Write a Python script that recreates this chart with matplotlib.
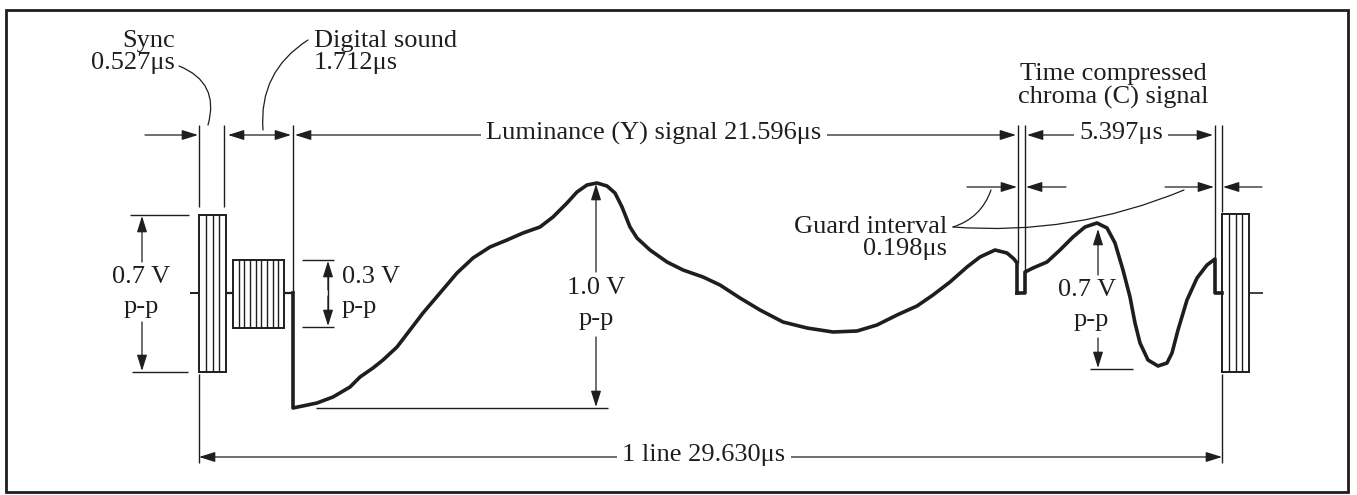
import matplotlib
matplotlib.use("Agg")
import matplotlib.pyplot as plt
from matplotlib.patches import Rectangle, FancyArrowPatch

# ---- data (pixel-space diagram, y grows downward) ----
sync_label = "Sync\n0.527\u03bcs"
sound_label = "Digital sound\n1.712\u03bcs"
lum_label = "Luminance (Y) signal 21.596\u03bcs"
chroma_dur_label = "5.397\u03bcs"
chroma_label = "Time compressed\nchroma (C) signal"
guard_label = "Guard interval\n0.198\u03bcs"
line_label = "1 line 29.630\u03bcs"
amp_labels = ["0.7 V", "0.3 V", "1.0 V", "0.7 V"]
pp_label = "p-p"

# luminance waveform trace points
lum_x = [293, 293, 317, 333, 350, 360, 373, 383, 397, 410, 423, 440, 457, 473, 490, 507,
         523, 540, 553, 567, 577, 587, 597, 607, 615, 622, 630, 637, 650, 667, 683, 703,
         720, 740, 760, 783, 807, 833, 857, 877, 897, 917, 933, 950, 967, 980, 995, 1007,
         1014, 1017, 1017]
lum_y = [293, 408, 403, 397, 387, 377, 368, 360, 347, 330, 313, 293, 273, 258, 247, 240,
         233, 227, 217, 203, 192, 185, 183, 186, 193, 207, 227, 238, 250, 262, 270, 277,
         285, 298, 310, 322, 328, 332, 331, 325, 315, 306, 295, 282, 267, 257, 250, 253,
         259, 263, 293]
# chroma waveform trace points
chr_x = [1017, 1025, 1025, 1033, 1047, 1060, 1073, 1085, 1097, 1107, 1115, 1123, 1130,
         1135, 1140, 1148, 1158, 1167, 1172, 1178, 1187, 1197, 1207, 1215, 1215, 1222]
chr_y = [293, 293, 272, 268, 262, 250, 237, 227, 223, 228, 243, 270, 297, 323, 343, 360,
         366, 363, 353, 330, 300, 278, 265, 259, 293, 293]

INK = "#1e1e1e"
FONT = "Liberation Serif"
FS = 19

fig = plt.figure(figsize=(13.57, 4.95), dpi=100)
ax = fig.add_axes([0, 0, 1, 1])
ax.set_xlim(0, 1357)
ax.set_ylim(495, 0)
ax.axis("off")

def line(xs, ys, lw=1.0, **kw):
    ax.plot(xs, ys, color=INK, lw=lw, solid_capstyle="butt", **kw)

def arrow(x1, y1, x2, y2, both=False):
    style = "<|-|>" if both else "-|>"
    ax.add_patch(FancyArrowPatch((x1, y1), (x2, y2), arrowstyle=style + ",head_length=0.7,head_width=0.22",
                                 mutation_scale=14, color=INK, lw=0.9, shrinkA=0, shrinkB=0))

def leader(p1, p2, rad):
    ax.add_patch(FancyArrowPatch(p1, p2, arrowstyle="-", connectionstyle=f"arc3,rad={rad}",
                                 color=INK, lw=0.9, shrinkA=0, shrinkB=0))

def txt(x, y, s, ha="center", **kw):
    ax.text(x, y, s, ha=ha, va="center", fontsize=FS, family=FONT, color=INK,
            linespacing=1.0, **kw)

# frame
ax.add_patch(Rectangle((6, 10), 1342, 482, fill=False, ec=INK, lw=2.0))

# ---- sync pulses (hatched blocks) ----
def striped(x0, x1, y0, y1, n):
    ax.add_patch(Rectangle((x0, y0), x1 - x0, y1 - y0, fill=False, ec=INK, lw=1.4))
    for i in range(1, n):
        xi = x0 + (x1 - x0) * i / n
        line([xi, xi], [y0, y1], lw=1.0)

striped(199, 226, 215, 372, 4)
striped(233, 284, 260, 328, 9)
striped(1222, 1249, 214, 372, 4)

# baseline bits
line([190, 199], [293, 293], lw=1.4)
line([226, 233], [293, 293], lw=1.6)
line([284, 293], [293, 293], lw=1.6)
line([1249, 1263], [293, 293], lw=1.2)

# waveform
ax.plot(lum_x, lum_y, color=INK, lw=2.6, solid_joinstyle="round")
ax.plot(chr_x, chr_y, color=INK, lw=2.6, solid_joinstyle="round")

# ---- extension lines ----
line([199, 199], [125, 207])
line([224, 224], [125, 207])
line([293, 293], [125, 293])
line([1018, 1018], [125, 263])
line([1025, 1025], [125, 272])
line([1215, 1215], [125, 259])
line([1222, 1222], [125, 212])
line([199, 199], [374, 463])
line([1222, 1222], [374, 463])

# ---- top dimension arrows ----
Y = 135
arrow(145, Y, 198, Y)
arrow(228, Y, 291, Y, both=True)
arrow(295, Y, 1016, Y, both=True)
arrow(1027, Y, 1213, Y, both=True)
txt(654, Y - 2, lum_label, bbox=dict(fc="white", ec="none", pad=4))
txt(1121, Y - 2, chroma_dur_label, bbox=dict(fc="white", ec="none", pad=4))
txt(1113, 86, chroma_label)

# guard interval arrows
G = 187
arrow(967, G, 1017, G)
arrow(1066, G, 1026, G)
arrow(1165, G, 1214, G)
arrow(1262, G, 1223, G)
txt(947, 238, guard_label, ha="right", multialignment="right")
leader((953, 227), (991, 190), 0.25)
leader((953, 227), (1184, 190), 0.12)

# sync / sound labels
txt(175, 52, sync_label, ha="right", multialignment="right")
leader((179, 66), (208, 125), -0.45)
txt(314, 52, sound_label, ha="left")
leader((308, 40), (263, 130), 0.3)

# ---- amplitude dimension marks ----
# 0.7 V left
line([130, 189], [215, 215])
line([132, 188], [372, 372])
arrow(142, 262, 142, 216)
arrow(142, 322, 142, 371)
txt(141, 277, amp_labels[0])
txt(141, 307, pp_label)
# 0.3 V
line([302, 334], [260, 260])
line([302, 334], [327, 327])
arrow(328, 290, 328, 261)
arrow(328, 296, 328, 326)
line([328, 328], [265, 322])
txt(342, 277, amp_labels[1], ha="left")
txt(342, 307, pp_label, ha="left")
# 1.0 V
line([316, 608], [408, 408])
arrow(596, 272, 596, 184)
arrow(596, 337, 596, 407)
txt(596, 288, amp_labels[2])
txt(596, 319, pp_label)
# 0.7 V right
line([1090, 1133], [369, 369])
arrow(1098, 275, 1098, 229)
arrow(1098, 338, 1098, 368)
txt(1087, 290, amp_labels[3])
txt(1091, 320, pp_label)

# ---- bottom line dimension ----
arrow(199, 457, 1222, 457, both=True)
txt(704, 455, line_label, bbox=dict(fc="white", ec="none", pad=4))

fig.savefig("out.png", dpi=100)
